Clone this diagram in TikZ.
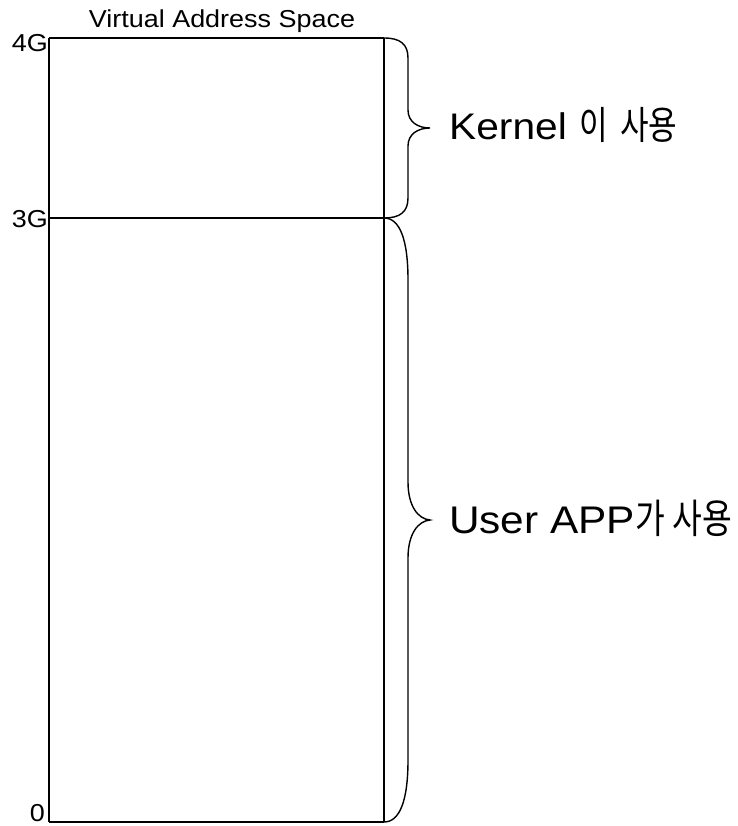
\documentclass[tikz,border=0pt]{standalone}
\usepackage{fontspec}
\setmainfont{Liberation Sans}[FakeStretch=1.1]
\newfontfamily\kr{Noto Sans CJK KR}[Scale=1.05,FakeStretch=0.8]
\begin{document}
\begin{tikzpicture}[x=1pt,y=-1pt,
  box/.style={line width=1.6pt},
  brace/.style={line width=1.4pt},
  lbl/.style={font=\fontsize{24.5}{26}\selectfont, inner sep=0pt},
  big/.style={font=\fontsize{37}{40}\selectfont, inner sep=0pt, anchor=base west}]
\useasboundingbox (0,0) rectangle (737,826);
\coordinate (tl) at (49,38);
\coordinate (tr) at (384,38);
\coordinate (ml) at (49,218);
\coordinate (mr) at (384,218);
\coordinate (bl) at (49,822);
\coordinate (br) at (384,822);
\draw[box] (tl) -- (tr);
\draw[box] (ml) -- (mr);
\draw[box] (bl) -- (br);
\draw[box] (tl) -- (bl);
\draw[line width=1.3pt] (tr) -- (br);
% braces
\draw[brace] (tr) .. controls (400,38) and (408,44) .. (408,58) -- (408,110)
  .. controls (408,122) and (418,128) .. (430,128)
  .. controls (418,128) and (408,134) .. (408,146) -- (408,198)
  .. controls (408,212) and (400,218) .. (mr);
\draw[brace] (mr) .. controls (400,218) and (408,240) .. (408,280) -- (408,482)
  .. controls (408,506) and (418,519) .. (430,520)
  .. controls (418,521) and (408,534) .. (408,558) -- (408,760)
  .. controls (408,800) and (400,822) .. (br);
% labels
\node[lbl, anchor=base] (title) at (222,28) {Virtual Address Space};
\node[lbl, anchor=base east] (g4) at (48,52) {4G};
\node[lbl, anchor=base east] (g3) at (48,228) {3G};
\node[lbl, anchor=base east] (g0) at (45,821) {0};
\node[big] (kern) at (449,140) {Kernel\hspace{0.35em}{\kr 이\hspace{0.3em}사용}};
\node[big, font=\fontsize{38.5}{42}\selectfont] (user) at (449,533) {User APP{\kr 가\hspace{0.2em}사용}};
\end{tikzpicture}
\end{document}
